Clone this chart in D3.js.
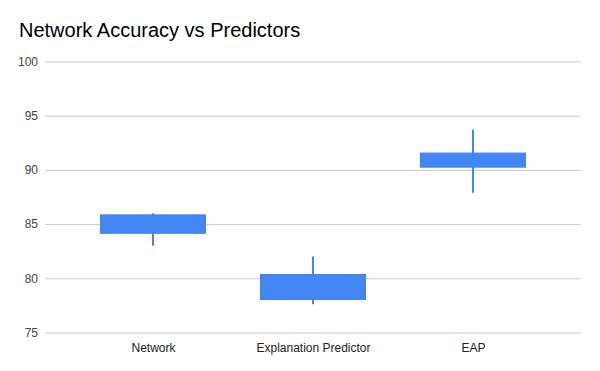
<!DOCTYPE html>
<html>
<head>
<meta charset="utf-8">
<script src="https://cdn.jsdelivr.net/npm/d3@7"></script>
<style>
  body { margin: 0; background: #fff; }
  text { font-family: "Liberation Sans", Arial, sans-serif; }
</style>
</head>
<body>
<div id="chart"></div>
<script>
// data
const categories = ["Network", "Explanation Predictor", "EAP"];
const lows   = [83.0, 77.6, 87.9];
const opens  = [84.1, 78.0, 90.2];
const closes = [85.9, 80.4, 91.6];
const highs  = [86.0, 82.0, 93.7];
const yTicks = [75, 80, 85, 90, 95, 100];

const width = 600, height = 371;
const margin = { top: 61, right: 19, bottom: 39, left: 45 };

const svg = d3.select("#chart")
    .append("svg")
    .attr("width", width)
    .attr("height", height);

svg.append("rect")
    .attr("width", width)
    .attr("height", height)
    .attr("fill", "#fff");

// title
svg.append("text")
    .attr("x", 19)
    .attr("y", 37)
    .attr("font-size", 20)
    .attr("fill", "#000")
    .text("Network Accuracy vs Predictors");

const x = d3.scalePoint()
    .domain(categories)
    .range([margin.left, width - margin.right])
    .padding(0.675);

const y = d3.scaleLinear()
    .domain([75, 100])
    .range([height - margin.bottom + 0.5, margin.top + 0.5]);

// gridlines + y labels
const yAxis = d3.axisLeft(y)
    .tickValues(yTicks)
    .tickSize(-(width - margin.left - margin.right))
    .tickPadding(7);

svg.append("g")
    .attr("transform", `translate(${margin.left},0)`)
    .call(yAxis)
    .call(g => g.select(".domain").remove())
    .call(g => g.selectAll(".tick line").attr("stroke", "#ccc"))
    .call(g => g.selectAll(".tick text")
        .attr("font-size", 12)
        .attr("fill", "#444"));

// x labels
const xAxis = d3.axisBottom(x).tickSize(0).tickPadding(11);
svg.append("g")
    .attr("transform", `translate(0,${height - margin.bottom})`)
    .call(xAxis)
    .call(g => g.select(".domain").remove())
    .call(g => g.selectAll(".tick text")
        .attr("font-size", 12)
        .attr("fill", "#222"));

const data = categories.map((c, i) => ({
    cat: c, low: lows[i], open: opens[i], close: closes[i], high: highs[i]
}));

const boxW = x.step() * 0.6625;
const color = "#4285f4";

const candles = svg.append("g")
    .selectAll("g")
    .data(data)
    .enter().append("g");

// boxes
candles.append("rect")
    .attr("x", d => x(d.cat) - boxW / 2)
    .attr("y", d => y(Math.max(d.open, d.close)))
    .attr("width", boxW)
    .attr("height", d => Math.abs(y(d.open) - y(d.close)))
    .attr("fill", color);

// wicks
candles.append("line")
    .attr("x1", d => x(d.cat))
    .attr("x2", d => x(d.cat))
    .attr("y1", d => y(d.low))
    .attr("y2", d => y(d.high))
    .attr("stroke", color)
    .attr("stroke-width", 2);
</script>
</body>
</html>
